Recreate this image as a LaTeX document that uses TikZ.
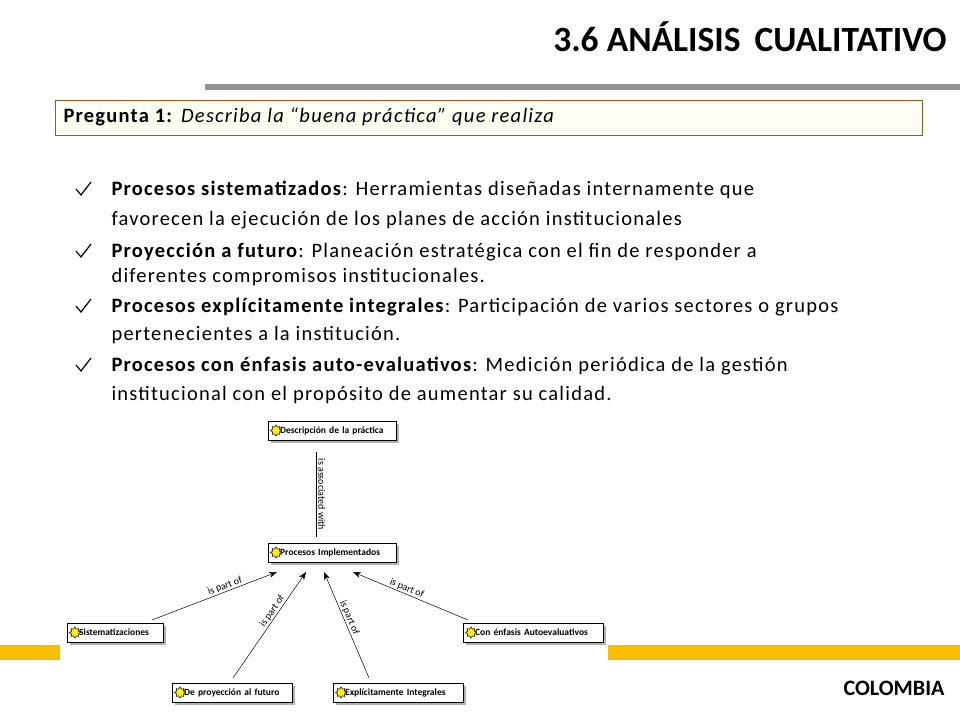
\documentclass[tikz,border=0pt]{standalone}
\usepackage{fontspec}
\setmainfont{Carlito}
\usetikzlibrary{shapes.geometric,arrows.meta}
\definecolor{band}{HTML}{F8BF00}
\definecolor{qborder}{HTML}{9C5A1C}
\definecolor{qfill}{HTML}{FFFEF5}
\newfontfamily\spaced[LetterSpace=6]{Carlito}
\tikzset{
  cbox/.style={draw=black,fill=white,line width=0.6pt,minimum height=19pt,inner sep=2pt,
    font=\fontsize{9.5}{10}\selectfont\bfseries,anchor=west,text width=#1,align=left},
  rel/.style={-{Stealth[length=8pt,width=6pt]},line width=0.5pt},
  rlab/.style={font=\fontsize{10}{11}\selectfont,inner sep=1pt},
  bul/.style={anchor=west,font=\fontsize{20.5}{22}\spaced}
}
\newcommand{\cnode}[5]{% name, x, y, width, text
  \fill[gray!60] (#2+3,#3+3) rectangle ++(#4,19);
  \node[cbox=#4pt-4pt,minimum width=#4pt] (#1) at (#2,#3+9.5) {\phantom{M}\,#5};
  \node[star,star points=8,star point ratio=1.5,fill=yellow,draw=black,line width=0.5pt,inner sep=0pt,minimum size=11pt] at (#2+8,#3+9.5) {};
}
\begin{document}
\begin{tikzpicture}[x=1pt,y=-1pt]
\useasboundingbox (0,0) rectangle (960,720);
\fill[white] (0,0) rectangle (960,720);
\node[anchor=east,font=\fontsize{35.5}{38}\selectfont\bfseries] (title) at (950,37) {3.6 ANÁLISIS\, CUALITATIVO};
\fill[gray!85] (205,84) rectangle (960,90);
\node[draw=qborder,fill=qfill,line width=0.8pt,minimum width=867pt,minimum height=35pt,anchor=north west,inner sep=0pt] (q) at (55,100) {};
\node[anchor=west,font=\fontsize{20.5}{22}\spaced] (qt) at (60,117) {\textbf{Pregunta 1:} \textit{Describa la “buena práctica” que realiza}};
\fill[band] (0,645) rectangle (60,660);
\fill[band] (608,645) rectangle (960,660);
\node[anchor=east,font=\fontsize{22}{24}\selectfont\bfseries] (col) at (948,688) {COLOMBIA};
% bullets
\foreach \y in {190,252,307,366}{
  \draw[line width=1.2pt] (76,\y-1) -- (81,\y+5) -- (91,\y-8);
}
\node[bul] (b1) at (108,190) {\textbf{Procesos sistematizados}: Herramientas diseñadas internamente que};
\node[bul] (b1b) at (108,220) {favorecen la ejecución de los planes de acción institucionales};
\node[bul] (b2) at (108,252) {\textbf{Proyección a futuro}: Planeación estratégica con el fin de responder a};
\node[bul] (b2b) at (108,277) {diferentes compromisos institucionales.};
\node[bul] (b3) at (108,307) {\textbf{Procesos explícitamente integrales}: Participación de varios sectores o grupos};
\node[bul] (b3b) at (108,335) {pertenecientes a la institución.};
\node[bul] (b4) at (108,366) {\textbf{Procesos con énfasis auto-evaluativos}: Medición periódica de la gestión};
\node[bul] (b4b) at (108,395) {institucional con el propósito de aumentar su calidad.};
% concept map
\cnode{desc}{268}{421}{128}{Descripción de la práctica}
\cnode{proc}{268}{543}{128}{Procesos Implementados}
\cnode{sist}{67}{623}{96}{Sistematizaciones}
\cnode{enf}{463}{623}{140}{Con énfasis Autoevaluativos}
\cnode{proy}{172}{683}{120}{De proyección al futuro}
\cnode{expl}{333}{683}{130}{Explícitamente Integrales}
\coordinate (a0) at (316,452); \coordinate (a1) at (316,537);
\draw[line width=0.6pt] (a0) -- (a1) node[midway,rotate=-90,anchor=south,rlab,yshift=1pt] {is associated with};
\coordinate (s0) at (152,620); \coordinate (s1) at (277,572);
\draw[rel] (s0) -- (s1) node[pos=0.6,sloped,above,rlab] {is part of};
\coordinate (p0) at (233,678); \coordinate (p1) at (306,572);
\draw[rel] (p0) -- (p1) node[pos=0.6,sloped,above,rlab] {is part of};
\coordinate (e0) at (369,678); \coordinate (e1) at (324,572);
\draw[rel] (e0) -- (e1) node[pos=0.55,sloped,above,rlab] {is part of};
\coordinate (c0) at (468,620); \coordinate (c1) at (353,572);
\draw[rel] (c0) -- (c1) node[pos=0.55,sloped,above,rlab] {is part of};
\end{tikzpicture}
\end{document}
